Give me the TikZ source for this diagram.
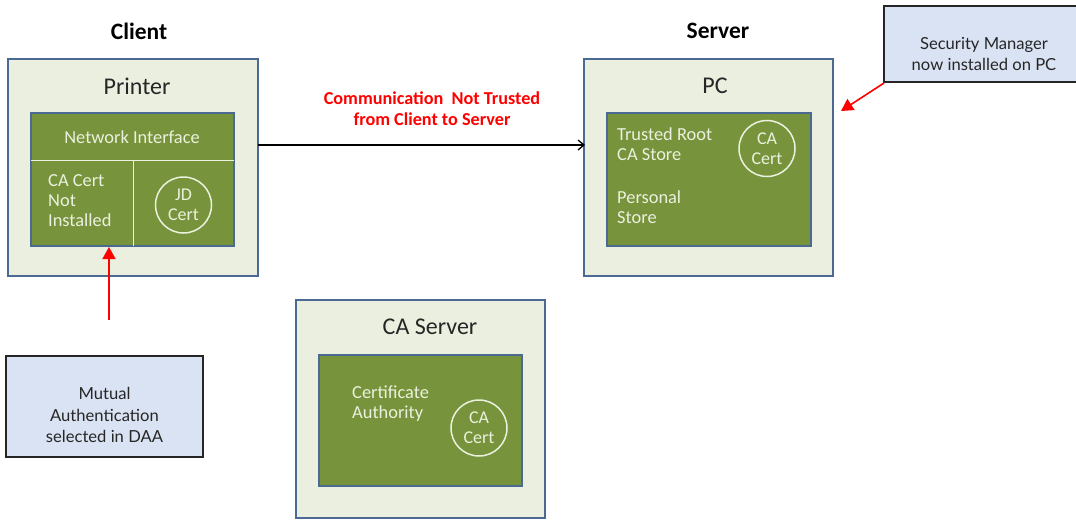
\documentclass[tikz,border=0pt]{standalone}
\usepackage{fontspec}
\setmainfont{Carlito}
\newfontfamily\notefont{Lato}
\usetikzlibrary{arrows.meta}
\definecolor{hostfill}{HTML}{EBEFDF}
\definecolor{hostedge}{HTML}{4A6A94}
\definecolor{boxgreen}{HTML}{77933C}
\definecolor{paletext}{HTML}{EBF1DE}
\definecolor{notefill}{HTML}{DAE3F3}
\definecolor{alertred}{HTML}{FF0000}
\tikzset{
  hostbox/.style={draw=hostedge, line width=2pt, fill=hostfill},
  innerbox/.style={draw=hostedge, line width=2pt, fill=boxgreen},
  divider/.style={draw=paletext, line width=0.8pt},
  certring/.style={circle, draw=paletext, line width=1.5pt, minimum size=56pt, inner sep=0pt,
    align=center, text=paletext, font=\fontsize{18}{20}\selectfont},
  hosttitle/.style={font=\fontsize{24}{28}\selectfont, text=black!85},
  heading/.style={font=\bfseries\fontsize{23.5}{28}\selectfont},
  greentext/.style={text=paletext, align=left, anchor=north west, inner sep=0pt,
    font=\fontsize{18.4}{19.7}\selectfont},
  notebox/.style={draw=black!85, line width=1.8pt, fill=notefill},
  notetext/.style={align=center, font=\notefont\fontsize{16.6}{21.2}\selectfont, text=black!85},
  redarrow/.style={draw=alertred, line width=1.6pt, -{Triangle[length=12pt,width=13pt]}},
}
\begin{document}
\begin{tikzpicture}[x=1pt,y=-1pt]
\useasboundingbox (0,0) rectangle (1076,520);

% headings
\node[heading] (client) at (139,31) {Client};
\node[heading] (server) at (718,31) {Server};

% printer
\draw[hostbox] (8,59) rectangle (258,276);
\coordinate (printerE) at (258,145);
\node[hosttitle] (printer) at (137,86) {Printer};
\draw[innerbox] (31,113) rectangle (234,246);
\draw[divider] (31,160) -- (234,160);
\draw[divider] (133,160) -- (133,246);
\coordinate (nicbottom) at (109,247);
\node[text=paletext, font=\fontsize{18.4}{20}\selectfont] (nic) at (132,137) {Network Interface};
\node[greentext] (cacertno) at (48,174.5) {CA Cert\\Not\\Installed};
\node[certring] (jdcert) at (183.5,205) {JD\\Cert};

% pc
\draw[hostbox] (584,59) rectangle (833,276);
\coordinate (pcW) at (585,145);
\coordinate (pcNE) at (841,111);
\node[hosttitle] (pc) at (715,86) {PC};
\draw[innerbox] (607,113) rectangle (811,246);
\node[greentext] (trusted) at (617,127.5) {Trusted Root\\CA Store};
\node[greentext] (personal) at (617,190.5) {Personal\\Store};
\node[certring] (pccert) at (767,148.5) {CA\\Cert};

% CA server
\draw[hostbox] (296,300) rectangle (545,518);
\node[hosttitle] (caserver) at (430,327) {CA Server};
\draw[innerbox] (319,355) rectangle (522,486);
\node[greentext] (authority) at (352,385.5) {Certificate\\Authority};
\node[certring] (cacert) at (479,428) {CA\\Cert};

% link between client and server
\draw[line width=1.3pt, -{Straight Barb[length=6pt,width=10pt]}] (printerE) -- (pcW);
\node[align=center, text=alertred, font=\bfseries\fontsize{18.2}{21}\selectfont] (commlabel)
  at (432,109) {Communication\ \ Not Trusted\\from Client to Server};

% notes
\draw[notebox] (884,6) rectangle (1080,82);
\coordinate (noteSW) at (884,83);
\node[notetext] (secmgr) at (984,54) {Security Manager\\now installed on PC};
\draw[redarrow] (noteSW) -- (pcNE);

\draw[notebox] (6,356) rectangle (203,457);
\node[notetext] (mutual) at (104.5,415) {Mutual\\Authentication\\selected in DAA};
\coordinate (mutualtop) at (109,320);
\draw[redarrow] (mutualtop) -- (nicbottom);
\end{tikzpicture}
\end{document}
